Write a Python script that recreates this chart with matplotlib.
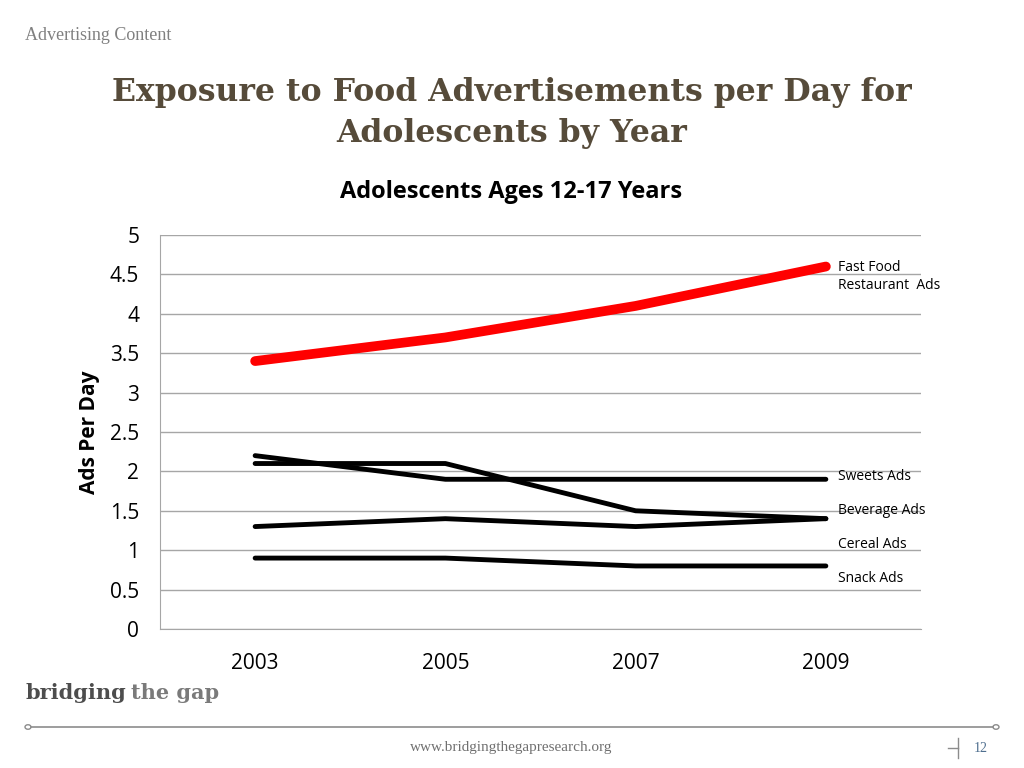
import matplotlib
matplotlib.use("Agg")
import matplotlib.pyplot as plt
from matplotlib.lines import Line2D
from matplotlib.patches import Circle

years = ["2003", "2005", "2007", "2009"]
fast_food = [3.4, 3.7, 4.1, 4.6]
sweets = [2.2, 1.9, 1.9, 1.9]
beverage = [2.1, 2.1, 1.5, 1.4]
cereal = [1.3, 1.4, 1.3, 1.4]
snack = [0.9, 0.9, 0.8, 0.8]
yticks = [0, 0.5, 1, 1.5, 2, 2.5, 3, 3.5, 4, 4.5, 5]
ytick_labels = ["0", "0.5", "1", "1.5", "2", "2.5", "3", "3.5", "4", "4.5", "5"]

W, H = 1024, 768
fig = plt.figure(figsize=(W / 100, H / 100), dpi=100)
fig.patch.set_facecolor("white")

sans = ["Open Sans", "DejaVu Sans"]
serif = ["Liberation Serif", "DejaVu Serif"]
wserif = ["DejaVu Serif"]

ax = fig.add_axes([160 / W, 1 - 629 / H, (921 - 160) / W, (629 - 235) / H])
x = [i + 0.5 for i in range(len(years))]
ax.plot(x, fast_food, color="#ff0000", lw=7, solid_capstyle="round", zorder=5)
for s in (sweets, beverage, cereal, snack):
    ax.plot(x, s, color="black", lw=3.5, solid_capstyle="round", zorder=4)

ax.set_xlim(0, 4)
ax.set_ylim(0, 5)
ax.set_yticks(yticks)
ax.set_yticklabels(ytick_labels, family=sans, fontsize=15)
ax.set_xticks(x)
ax.set_xticklabels(years, family=sans, fontsize=15)
ax.tick_params(axis="both", length=0)
ax.tick_params(axis="y", pad=15)
ax.tick_params(axis="x", pad=17)
ax.grid(axis="y", color="#a6a6a6", lw=1)
ax.set_axisbelow(True)
for sp in ("top", "right"):
    ax.spines[sp].set_visible(False)
ax.spines["left"].set_color("#a6a6a6")
ax.spines["bottom"].set_color("#a6a6a6")
ax.set_ylabel("Ads Per Day", family=sans, fontsize=15, fontweight="bold")
ax.yaxis.set_label_coords(-0.095 + 12 / 761, 0.5)

lab_x = 838 / W
fig.text(lab_x, 1 - 268 / H, "Fast Food", family=sans, fontsize=10, va="center")
fig.text(lab_x, 1 - 286 / H, "Restaurant  Ads", family=sans, fontsize=10, va="center")
fig.text(lab_x, 1 - 476 / H, "Sweets Ads", family=sans, fontsize=10, va="center")
fig.text(lab_x, 1 - 510 / H, "Beverage Ads", family=sans, fontsize=10, va="center")
fig.text(lab_x, 1 - 544 / H, "Cereal Ads", family=sans, fontsize=10, va="center")
fig.text(lab_x, 1 - 578 / H, "Snack Ads", family=sans, fontsize=10, va="center")

fig.text(25 / W, 1 - 36 / H, "Advertising Content", family=serif, fontsize=13,
         color="#808080", va="center")
fig.text(512 / W, 1 - 113 / H, "Exposure to Food Advertisements per Day for\nAdolescents by Year",
         family=wserif, fontsize=22.7, fontweight="bold", color="#564b3a",
         ha="center", va="center", linespacing=1.4)
fig.text(511 / W, 1 - 192 / H, "Adolescents Ages 12-17 Years", family=sans,
         fontsize=17, fontweight="bold", ha="center", va="center")

fig.text(25 / W, 1 - 693 / H, "bridging", family=wserif, fontsize=15, fontweight="bold",
         color="#4d4d4d", va="center")
fig.text(131 / W, 1 - 693 / H, "the gap", family=wserif, fontsize=15, fontweight="bold",
         color="#7a7a7a", va="center")
fig.add_artist(Line2D([31 / W, 993 / W], [1 - 727 / H, 1 - 727 / H], color="#8c8c8c", lw=1.2))
for cx in (28, 996):
    fig.add_artist(Circle((cx / W, 1 - 727 / H), 3 / W, transform=fig.transFigure,
                          fill=False, ec="#8c8c8c", lw=1))
fig.text(511 / W, 1 - 748 / H, "www.bridgingthegapresearch.org", family=serif,
         fontsize=11, color="#707070", ha="center", va="center")
fig.add_artist(Line2D([958 / W, 958 / W], [1 - 738 / H, 1 - 758 / H], color="#8c8c8c", lw=1))
fig.add_artist(Line2D([948 / W, 958 / W], [1 - 748 / H, 1 - 748 / H], color="#8c8c8c", lw=1))
fig.text(981 / W, 1 - 749 / H, "12", family=serif, fontsize=10, color="#4f6f8f",
         ha="center", va="center")

fig.savefig("out.png", dpi=100)
